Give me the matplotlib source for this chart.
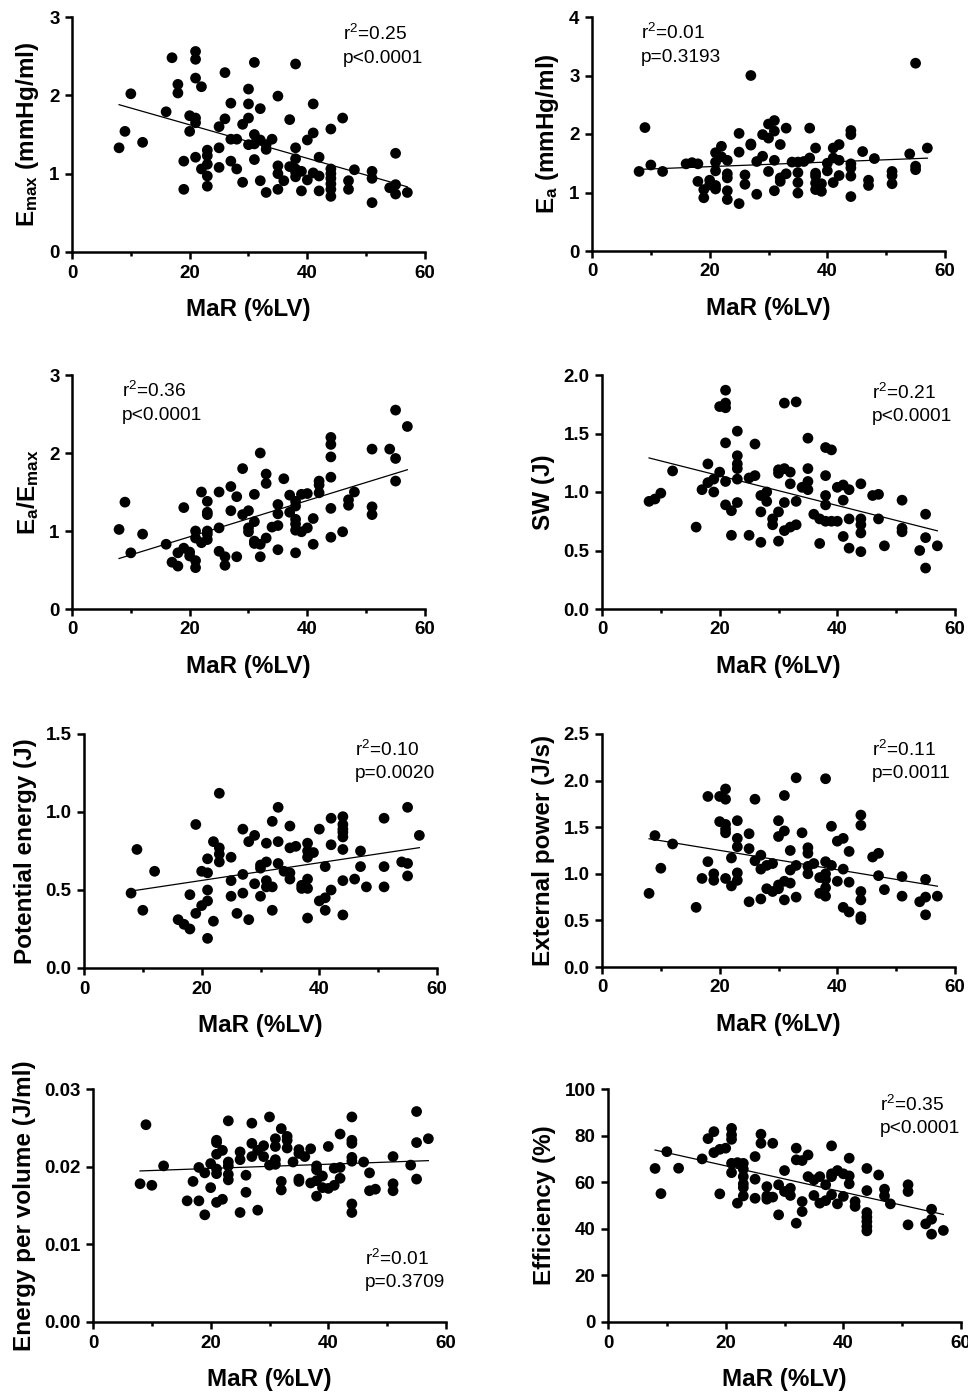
import numpy as np
import matplotlib
matplotlib.use("Agg")
import matplotlib.pyplot as plt
from matplotlib.ticker import FixedLocator, FormatStrFormatter

plt.rcParams['font.family'] = ['Liberation Sans', 'DejaVu Sans']
plt.rcParams['mathtext.fontset'] = 'custom'
plt.rcParams['mathtext.rm'] = 'Liberation Sans'
plt.rcParams['mathtext.default'] = 'regular'

# MaR (%LV) against each haemodynamic / energetic index
mar_emax = [8, 9, 10, 12, 16, 17, 18, 18, 19, 19, 20, 20, 21, 21, 21, 21, 21, 21, 22, 22,
            23, 23, 23, 23, 23, 25, 25, 25, 26, 26, 27, 27, 27, 28, 28, 29, 29, 30, 30, 30,
            30, 31, 31, 31, 31, 32, 32, 32, 33, 33, 33, 34, 35, 35, 35, 35, 36, 37, 37, 38,
            38, 38, 38, 38, 38, 39, 39, 40, 40, 41, 41, 41, 42, 42, 42, 44, 44, 44, 44, 44,
            44, 44, 46, 47, 47, 48, 51, 51, 51, 54, 55, 55, 55, 57]
emax = [1.33, 1.54, 2.02, 1.40, 1.79, 2.48, 2.14, 2.03, 1.16, 0.80, 1.74, 1.54, 2.56, 2.46,
        2.22, 1.71, 1.65, 1.21, 2.11, 1.06, 1.30, 1.23, 1.12, 0.97, 0.84, 1.60, 1.33, 1.08,
        2.29, 1.70, 1.90, 1.44, 1.16, 1.44, 1.06, 1.63, 0.89, 2.08, 1.89, 1.71, 1.37, 2.42,
        1.50, 1.38, 1.18, 1.83, 1.43, 0.91, 1.37, 1.31, 0.76, 1.44, 1.99, 1.10, 1.00, 0.80,
        0.91, 1.69, 1.09, 2.40, 1.33, 1.19, 1.06, 1.02, 0.96, 1.03, 0.78, 1.43, 0.92, 1.89,
        1.52, 1.01, 1.21, 0.97, 0.78, 1.57, 1.06, 1.00, 0.94, 0.87, 0.80, 0.71, 1.71, 0.91,
        0.80, 1.05, 1.03, 0.94, 0.63, 0.82, 1.26, 0.86, 0.74, 0.76]

mar_ea = [8, 9, 10, 12, 16, 17, 18, 18, 19, 19, 20, 20, 21, 21, 21, 21, 21, 22, 22, 23, 23,
          23, 23, 23, 25, 25, 25, 26, 26, 27, 27, 27, 28, 28, 29, 29, 30, 30, 30, 31, 31, 31,
          31, 32, 32, 32, 33, 33, 34, 35, 35, 35, 35, 36, 37, 37, 38, 38, 38, 38, 38, 39, 39,
          40, 40, 41, 41, 41, 42, 42, 42, 44, 44, 44, 44, 44, 44, 46, 47, 47, 48, 51, 51, 51,
          54, 55, 55, 55, 57]
ea = [1.36, 2.11, 1.47, 1.36, 1.49, 1.51, 1.49, 1.19, 1.05, 0.91, 1.21, 1.13, 1.68, 1.52,
      1.37, 1.12, 1.06, 1.79, 1.61, 1.55, 1.32, 1.25, 1.03, 0.88, 2.01, 1.69, 0.81, 1.30,
      1.14, 3.00, 1.83, 1.81, 1.53, 0.97, 1.99, 1.62, 2.17, 1.93, 1.36, 2.23, 2.05, 1.55,
      1.03, 1.82, 1.25, 1.19, 2.10, 1.32, 1.52, 1.52, 1.34, 1.17, 0.99, 1.53, 2.10, 1.59,
      1.76, 1.33, 1.28, 1.16, 1.05, 1.15, 1.02, 1.50, 1.37, 1.76, 1.59, 1.17, 1.82, 1.55,
      1.29, 2.06, 1.99, 1.49, 1.42, 1.28, 0.93, 1.70, 1.21, 1.12, 1.58, 1.36, 1.29, 1.15,
      1.66, 3.21, 1.45, 1.39, 1.76]

mar_ratio = [8, 9, 10, 12, 16, 17, 18, 18, 19, 19, 20, 20, 21, 21, 21, 21, 22, 22, 23, 23,
             23, 23, 23, 23, 25, 25, 25, 26, 26, 27, 27, 28, 28, 29, 29, 30, 30, 30, 31, 31,
             31, 31, 32, 32, 32, 33, 33, 33, 34, 35, 35, 35, 35, 36, 37, 37, 38, 38, 38, 38,
             38, 38, 39, 39, 40, 40, 41, 41, 42, 42, 42, 44, 44, 44, 44, 44, 44, 46, 47, 47,
             48, 51, 51, 51, 54, 55, 55, 55, 57]
ea_emax = [1.02, 1.37, 0.72, 0.96, 0.83, 0.60, 0.72, 0.55, 1.30, 0.78, 0.73, 0.68, 1.00,
           0.91, 0.62, 0.53, 1.50, 0.85, 1.38, 1.24, 1.21, 1.00, 0.96, 0.89, 1.50, 1.04,
           0.74, 0.67, 0.56, 1.57, 1.26, 1.44, 0.67, 1.80, 1.21, 1.26, 1.04, 0.99, 1.47,
           1.12, 0.87, 0.84, 2.00, 0.83, 0.67, 1.73, 1.61, 0.91, 1.05, 1.34, 1.22, 1.07,
           0.76, 1.67, 1.46, 1.24, 1.38, 1.32, 1.15, 1.09, 1.01, 0.72, 1.47, 0.99, 1.48,
           1.04, 1.16, 0.83, 1.64, 1.59, 1.49, 2.20, 2.11, 1.95, 1.69, 1.29, 0.92, 0.99,
           1.40, 1.33, 1.50, 2.05, 1.31, 1.21, 2.05, 2.55, 1.93, 1.64, 2.34]

mar_sw = [8, 9, 10, 12, 16, 17, 18, 18, 19, 19, 20, 20, 21, 21, 21, 21, 21, 21, 22, 22, 23,
          23, 23, 23, 23, 23, 25, 25, 26, 26, 27, 27, 27, 28, 28, 29, 29, 30, 30, 30, 30, 31,
          31, 31, 31, 32, 32, 32, 33, 33, 33, 34, 35, 35, 35, 35, 36, 37, 37, 38, 38, 38, 38,
          38, 39, 39, 40, 40, 41, 41, 41, 42, 42, 42, 44, 44, 44, 44, 44, 46, 47, 47, 48, 51,
          51, 51, 54, 55, 55, 55, 57]
sw = [0.92, 0.94, 0.99, 1.18, 0.70, 1.02, 1.24, 1.08, 1.11, 1.00, 1.73, 1.17, 1.87, 1.76,
      1.72, 1.42, 1.09, 0.89, 0.84, 0.63, 1.52, 1.31, 1.24, 1.20, 1.11, 0.91, 1.12, 0.63,
      1.41, 1.14, 0.97, 0.83, 0.57, 1.00, 0.92, 0.77, 0.72, 1.19, 1.16, 0.83, 0.58, 1.76,
      1.20, 0.91, 0.67, 1.17, 1.07, 0.70, 1.77, 0.92, 0.72, 1.04, 1.46, 1.20, 1.09, 1.02,
      0.81, 0.77, 0.56, 1.38, 1.14, 0.97, 0.89, 0.75, 1.36, 0.75, 1.04, 0.75, 1.06, 0.93,
      0.62, 1.02, 0.77, 0.52, 1.07, 0.77, 0.72, 0.65, 0.49, 0.97, 0.98, 0.77, 0.54, 0.93,
      0.69, 0.66, 0.50, 0.81, 0.61, 0.35, 0.54]

mar_pe = [8, 9, 10, 12, 16, 17, 18, 18, 19, 19, 20, 20, 21, 21, 21, 21, 21, 22, 22, 23, 23,
          23, 23, 25, 25, 25, 26, 27, 27, 27, 28, 28, 29, 29, 30, 30, 30, 31, 31, 31, 31, 32,
          32, 32, 33, 33, 33, 34, 35, 35, 35, 35, 36, 37, 37, 38, 38, 38, 38, 38, 38, 39, 40,
          40, 41, 41, 41, 42, 42, 42, 44, 44, 44, 44, 44, 44, 44, 44, 46, 47, 47, 48, 51, 51,
          51, 54, 55, 55, 55, 57]
pe = [0.48, 0.76, 0.37, 0.62, 0.31, 0.28, 0.47, 0.25, 0.92, 0.35, 0.62, 0.40, 0.70, 0.61,
      0.50, 0.43, 0.19, 0.81, 0.30, 1.12, 0.77, 0.73, 0.68, 0.71, 0.56, 0.46, 0.35, 0.89,
      0.60, 0.48, 0.81, 0.31, 0.85, 0.54, 0.66, 0.64, 0.46, 0.80, 0.68, 0.56, 0.52, 0.94,
      0.52, 0.37, 1.03, 0.81, 0.67, 0.62, 0.91, 0.77, 0.61, 0.57, 0.78, 0.53, 0.51, 0.80,
      0.75, 0.71, 0.57, 0.51, 0.32, 0.74, 0.89, 0.43, 0.65, 0.45, 0.37, 0.96, 0.79, 0.50,
      0.97, 0.92, 0.89, 0.87, 0.84, 0.76, 0.56, 0.34, 0.57, 0.75, 0.65, 0.52, 0.96, 0.65,
      0.52, 0.68, 1.03, 0.67, 0.59, 0.85]

mar_power = [8, 9, 10, 12, 16, 17, 18, 18, 19, 19, 20, 20, 21, 21, 21, 21, 21, 21, 22, 22,
             23, 23, 23, 23, 23, 25, 25, 25, 26, 26, 27, 27, 27, 28, 28, 29, 29, 30, 30, 30,
             30, 31, 31, 31, 31, 32, 32, 32, 33, 33, 33, 34, 35, 35, 35, 35, 36, 37, 37, 38,
             38, 38, 38, 38, 38, 39, 39, 40, 40, 41, 41, 41, 42, 42, 42, 44, 44, 44, 44, 44,
             44, 46, 47, 47, 48, 51, 51, 54, 55, 55, 55, 57]
ext_power = [0.79, 1.41, 1.06, 1.32, 0.64, 0.95, 1.83, 1.13, 1.00, 0.93, 1.83, 1.56, 1.91,
             1.80, 1.53, 1.48, 1.44, 0.95, 1.17, 0.87, 1.57, 1.38, 1.29, 1.01, 0.93, 1.43,
             1.27, 0.70, 1.80, 1.14, 1.20, 1.05, 0.73, 1.09, 0.84, 1.11, 0.81, 1.57, 1.40,
             0.88, 0.84, 1.84, 1.46, 0.92, 0.72, 1.25, 1.04, 0.90, 2.03, 1.09, 0.75, 1.44,
             1.28, 1.22, 1.08, 1.00, 1.11, 0.96, 0.79, 2.02, 1.13, 1.00, 0.94, 0.85, 0.76,
             1.51, 1.09, 1.35, 0.92, 1.38, 1.05, 0.64, 1.24, 0.91, 0.59, 1.63, 1.52, 0.81,
             0.72, 0.54, 0.51, 1.18, 1.22, 0.98, 0.83, 0.97, 0.76, 0.70, 0.94, 0.75, 0.56, 0.76]

mar_epv = [8, 9, 10, 12, 16, 17, 18, 18, 19, 19, 20, 20, 21, 21, 21, 21, 21, 21, 22, 22, 23,
           23, 23, 23, 23, 25, 25, 25, 26, 26, 27, 27, 27, 28, 28, 29, 29, 30, 30, 31, 31, 31,
           31, 32, 32, 32, 33, 33, 33, 34, 35, 35, 35, 35, 36, 37, 37, 38, 38, 38, 38, 39, 39,
           40, 40, 41, 41, 42, 42, 42, 44, 44, 44, 44, 44, 44, 44, 46, 47, 47, 48, 51, 51, 51,
           54, 55, 55, 55, 57]
energy_per_vol = [0.0178, 0.0254, 0.0176, 0.0201, 0.0156, 0.0181, 0.0199, 0.0156, 0.0192,
                  0.0138, 0.0204, 0.0173, 0.0234, 0.0231, 0.0216, 0.0197, 0.0191, 0.0154,
                  0.0221, 0.0158, 0.0259, 0.0206, 0.0201, 0.0190, 0.0183, 0.0219, 0.0209,
                  0.0141, 0.0189, 0.0167, 0.0256, 0.0230, 0.0213, 0.0221, 0.0144, 0.0227,
                  0.0213, 0.0264, 0.0202, 0.0236, 0.0226, 0.0209, 0.0203, 0.0249, 0.0181,
                  0.0170, 0.0239, 0.0234, 0.0224, 0.0206, 0.0222, 0.0217, 0.0184, 0.0181,
                  0.0213, 0.0223, 0.0179, 0.0201, 0.0196, 0.0182, 0.0162, 0.0188, 0.0173,
                  0.0226, 0.0172, 0.0198, 0.0176, 0.0242, 0.0199, 0.0185, 0.0264, 0.0234,
                  0.0230, 0.0212, 0.0207, 0.0152, 0.0141, 0.0206, 0.0192, 0.0169, 0.0171,
                  0.0213, 0.0178, 0.0169, 0.0202, 0.0271, 0.0231, 0.0184, 0.0236]

mar_eff = [8, 9, 10, 12, 16, 17, 18, 18, 19, 19, 20, 21, 21, 21, 21, 21, 22, 22, 23, 23, 23,
           23, 23, 23, 25, 25, 25, 26, 26, 27, 27, 27, 28, 28, 29, 29, 30, 30, 31, 31, 32, 32,
           32, 33, 33, 33, 34, 34, 35, 35, 36, 36, 37, 37, 38, 38, 38, 38, 39, 39, 40, 40, 41,
           41, 41, 42, 42, 44, 44, 44, 44, 44, 44, 44, 46, 47, 47, 48, 51, 51, 51, 54, 55, 55,
           55, 57]
efficiency = [65.9, 55.1, 73.1, 66.0, 70.0, 78.7, 81.7, 72.7, 55.0, 74.1, 74.6, 83.1, 80.3,
              78.4, 68.1, 64.1, 68.4, 51.0, 68.1, 65.6, 62.4, 59.3, 57.7, 54.1, 71.0, 61.3,
              53.1, 80.6, 76.7, 58.1, 54.1, 52.7, 76.7, 53.6, 58.9, 46.0, 65.0, 56.0, 57.4,
              54.3, 74.6, 69.6, 42.4, 69.3, 51.7, 47.4, 71.7, 62.4, 61.0, 54.3, 62.4, 51.0,
              52.1, 58.9, 75.6, 63.6, 62.4, 54.6, 65.0, 50.7, 63.6, 53.9, 70.3, 62.7, 59.3,
              51.7, 49.6, 65.9, 56.4, 47.0, 45.0, 43.1, 41.0, 39.1, 63.1, 57.0, 54.1, 50.7,
              58.9, 56.0, 41.7, 42.1, 48.4, 44.1, 37.7, 39.3]

stats_text = [('0.25', 'p<0.0001'), ('0.01', 'p=0.3193'), ('0.36', 'p<0.0001'),
              ('0.21', 'p<0.0001'), ('0.10', 'p=0.0020'), ('0.11', 'p=0.0011'),
              ('0.01', 'p=0.3709'), ('0.35', 'p<0.0001')]

ylabels = ['E$_{max}$ (mmHg/ml)', 'E$_a$ (mmHg/ml)', 'E$_a$/E$_{max}$', 'SW (J)',
           'Potential energy (J)', 'External power (J/s)', 'Energy per volume (J/ml)',
           'Efficiency (%)']

W, H = 968, 1392
fig = plt.figure(figsize=(W / 100, H / 100), dpi=100)


def px_axes(x0, x1, ytop, ybot):
    return fig.add_axes([x0 / W, 1 - ybot / H, (x1 - x0) / W, (ybot - ytop) / H])


panels = [
    # (x, y, axes box px, y ticks, tick format, stats text pos in axes fraction)
    (mar_emax, emax, (72, 425, 17, 252), [0, 1, 2, 3], '%d', (0.768, 0.902, 0.804)),
    (mar_ea, ea, (592, 945, 17, 251), [0, 1, 2, 3, 4], '%d', (0.139, 0.906, 0.808)),
    (mar_ratio, ea_emax, (72, 425, 375, 609), [0, 1, 2, 3], '%d', (0.142, 0.906, 0.808)),
    (mar_sw, sw, (602, 955, 375, 609), [0, 0.5, 1.0, 1.5, 2.0], '%.1f', (0.765, 0.897, 0.803)),
    (mar_pe, pe, (84, 437, 734, 968), [0, 0.5, 1.0, 1.5], '%.1f', (0.768, 0.906, 0.812)),
    (mar_power, ext_power, (602, 955, 734, 967), [0, 0.5, 1.0, 1.5, 2.0, 2.5], '%.1f',
     (0.765, 0.906, 0.811)),
    (mar_epv, energy_per_vol, (93, 446, 1089, 1322), [0, 0.01, 0.02, 0.03], '%.2f',
     (0.771, 0.245, 0.150)),
    (mar_eff, efficiency, (608, 961, 1089, 1322), [0, 20, 40, 60, 80, 100], '%d',
     (0.771, 0.906, 0.811)),
]

for (xs, ys, box, yticks, fmt, tpos), ylab, (r2, ptxt) in zip(panels, ylabels, stats_text):
    ax = px_axes(*box)
    xs = np.asarray(xs, dtype=float)
    ys = np.asarray(ys, dtype=float)
    ax.scatter(xs, ys, s=60, color='black', edgecolors='none', zorder=3, clip_on=False)

    # least-squares line over the observed MaR range
    slope, icpt = np.polyfit(xs, ys, 1)
    xl = np.array([xs.min(), xs.max()])
    ax.plot(xl, slope * xl + icpt, color='black', lw=0.9, zorder=2)

    ax.set_xlim(0, 60)
    ax.set_ylim(yticks[0], yticks[-1])
    ax.xaxis.set_major_locator(FixedLocator([0, 20, 40, 60]))
    ax.xaxis.set_minor_locator(FixedLocator([10, 30, 50]))
    ax.yaxis.set_major_locator(FixedLocator(yticks))
    ax.yaxis.set_major_formatter(FormatStrFormatter(fmt))

    for side in ('top', 'right'):
        ax.spines[side].set_visible(False)
    for side in ('left', 'bottom'):
        ax.spines[side].set_linewidth(1.8)
    ax.tick_params(which='major', length=5, width=1.8, labelsize=13.5, pad=4)
    ax.tick_params(which='minor', length=3, width=1.8)
    for lbl in ax.get_xticklabels() + ax.get_yticklabels():
        lbl.set_fontweight('bold')

    ax.set_xlabel('MaR (%LV)', fontsize=17.5, fontweight='bold', labelpad=12)
    ax.set_ylabel(ylab, fontsize=17.5, fontweight='bold', labelpad=6)

    tx, ty1, ty2 = tpos
    ax.text(tx, ty1, 'r$^2$=' + r2, transform=ax.transAxes, fontsize=13.8,
            ha='left', va='baseline')
    ax.text(tx, ty2, ptxt, transform=ax.transAxes, fontsize=13.8, ha='left', va='baseline')

fig.savefig('out.png', dpi=100)
